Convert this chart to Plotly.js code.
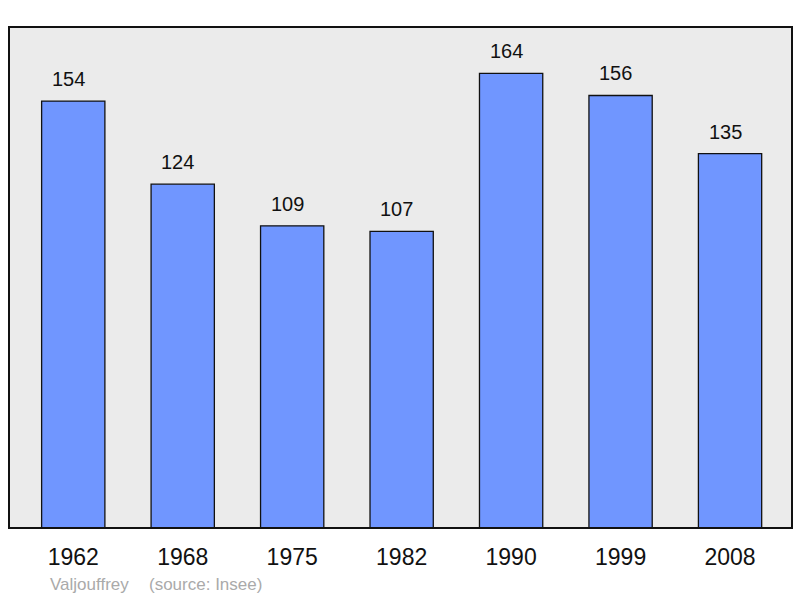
<!DOCTYPE html>
<html>
<head>
<meta charset="utf-8">
<script src="https://cdn.plot.ly/plotly-3.0.1.min.js"></script>
<style>
html,body{margin:0;padding:0;background:#fff;}
#chart{width:800px;height:598px;}
</style>
</head>
<body>
<div id="chart"></div>
<script>
const years = ["1962", "1968", "1975", "1982", "1990", "1999", "2008"];
const population = [154, 124, 109, 107, 164, 156, 135];
const commune = "Valjouffrey";
const source = "(source: Insee)";

const trace = {
  type: "bar",
  x: years,
  y: population,
  width: 0.578,
  marker: {color: "#7096ff", line: {color: "#111111", width: 1.3}},
  hoverinfo: "none"
};

const annotations = years.map((yr, i) => ({
  x: i, y: population[i], xref: "x", yref: "y",
  text: String(population[i]),
  showarrow: false, yanchor: "bottom", yshift: 9, xshift: -5,
  font: {family: "Liberation Sans, Arial, sans-serif", size: 20, color: "#111"}
}));
annotations.push({
  xref: "paper", yref: "paper", x: (48 - 9) / 783, y: -0.113,
  xanchor: "left", yanchor: "middle", showarrow: false,
  text: commune, font: {family: "Liberation Sans, Arial, sans-serif", size: 17, color: "#aaaaaa"}
});
annotations.push({
  xref: "paper", yref: "paper", x: (147 - 9) / 783, y: -0.113,
  xanchor: "left", yanchor: "middle", showarrow: false,
  text: source, font: {family: "Liberation Sans, Arial, sans-serif", size: 17, color: "#aaaaaa"}
});

const layout = {
  width: 800, height: 598,
  margin: {l: 9, r: 8, t: 27, b: 70},
  paper_bgcolor: "#ffffff",
  plot_bgcolor: "#ebebeb",
  showlegend: false,
  font: {family: "Liberation Sans, Arial, sans-serif", color: "#111"},
  xaxis: {
    type: "category", range: [-0.587, 6.566],
    showgrid: false, zeroline: false, showline: false, ticks: "",
    tickfont: {size: 23, color: "#111"}, ticklabelstandoff: 13, fixedrange: true
  },
  yaxis: {
    range: [0, 180.7], showgrid: false, zeroline: false, showline: false,
    showticklabels: false, ticks: "", fixedrange: true
  },
  shapes: [{
    type: "rect", xref: "paper", yref: "paper", x0: 0, x1: 1, y0: 0, y1: 1,
    line: {color: "#111111", width: 2}, fillcolor: "rgba(0,0,0,0)", layer: "above"
  }],
  annotations: annotations
};

Plotly.newPlot("chart", [trace], layout, {displayModeBar: false, staticPlot: true});
</script>
</body>
</html>
